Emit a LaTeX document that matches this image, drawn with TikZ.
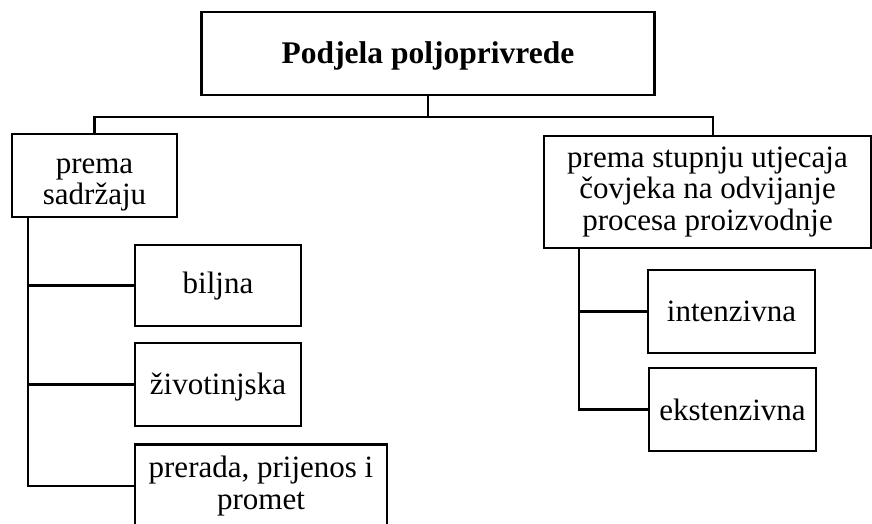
\documentclass[tikz,border=0pt]{standalone}
\usepackage{fontspec}
\setmainfont{Liberation Serif}
\newcommand{\lowr}[2]{\raisebox{-#1}[\height][\depth]{#2}}
\begin{document}
\begin{tikzpicture}[x=1pt,y=1pt,
  box/.style={draw,line width=2.8pt,rectangle,inner sep=0pt,align=center,
    font=\fontsize{31}{31.5}\selectfont},
  conn/.style={line width=2.8pt}]
\useasboundingbox (0,0) rectangle (872,-524);
\node[box,minimum width=453,minimum height=83,font=\fontsize{31.5}{33}\selectfont\bfseries] (title) at (428,-53.5) {\lowr{2pt}{Podjela poljoprivrede}};
\node[box,minimum width=165,minimum height=83] (l1) at (94.5,-175.5) {\lowr{7pt}{\begin{tabular}{@{}c@{}}prema\\[-1pt]sadržaju\end{tabular}}};
\node[box,minimum width=327,minimum height=112] (r1) at (707.5,-192) {prema stupnju utjecaja\\čovjeka na odvijanje\\procesa proizvodnje};
\node[box,minimum width=166,minimum height=81] (c1) at (218,-285.5) {\lowr{1pt}{biljna}};
\node[box,minimum width=166,minimum height=83] (c2) at (218,-384.5) {\lowr{3pt}{životinjska}};
\node[box,minimum width=252,minimum height=83] (c3) at (261,-486) {prerada, prijenos i\\promet};
\node[box,minimum width=167,minimum height=83] (e1) at (731.5,-311.5) {intenzivna};
\node[box,minimum width=167,minimum height=83] (e2) at (732.5,-409.5) {ekstenzivna};
\coordinate (j) at (428,-117);
\coordinate (lb) at (28,0);
\coordinate (rb) at (579,0);
\draw[conn] (title.south) -- (j);
\draw[conn] (l1.north) |- (j) -| ([xshift=5.5pt]r1.north);
\draw[conn] (l1.south -| lb) |- (c3.west);
\draw[conn] (c1.west) -- (c1.west -| lb);
\draw[conn] (c2.west) -- (c2.west -| lb);
\draw[conn] (r1.south -| rb) |- (e2.west);
\draw[conn] (e1.west) -- (e1.west -| rb);
\end{tikzpicture}
\end{document}
